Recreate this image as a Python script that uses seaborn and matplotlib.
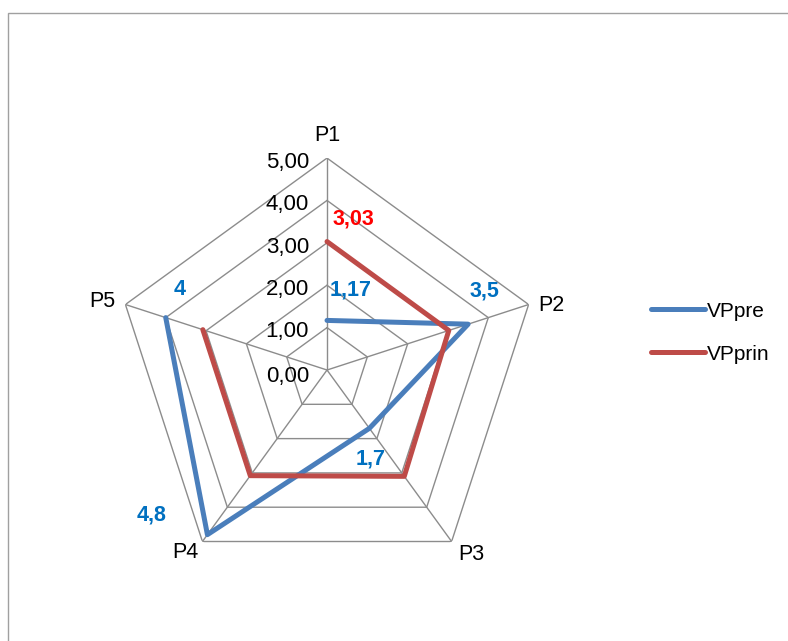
import numpy as np
import pandas as pd
import matplotlib
matplotlib.use("Agg")
import matplotlib.pyplot as plt
import seaborn as sns
from matplotlib.patches import Rectangle

# ─── Data ─────────────────────────────────────────────────────────────────────
categories = ["P1", "P2", "P3", "P4", "P5"]
vp_pre = [1.17, 3.5, 1.7, 4.8, 4.0]
vp_prin = [3.03, 3.02, 3.1, 3.08, 3.08]
pre_labels = ["1,17", "3,5", "1,7", "4,8", "4"]
prin_labels = ["3,03", "", "", "", ""]
tick_values = [0, 1, 2, 3, 4, 5]
tick_labels = ["0,00", "1,00", "2,00", "3,00", "4,00", "5,00"]

BLUE = "#4A7EBB"
RED = "#BE4B48"
GRID = "#8C8C8C"

sns.set_theme(style="white")
plt.rcParams["font.family"] = ["Liberation Sans", "DejaVu Sans"]
plt.rcParams["text.color"] = "black"

n = len(categories)
theta = np.arange(n) * 2 * np.pi / n
theta_closed = np.append(theta, theta[0])

fig = plt.figure(figsize=(7.88, 6.41), dpi=100)
ax = fig.add_axes([0.146, 0.092, 0.538, 0.6615], projection="polar")
ax.set_theta_offset(np.pi / 2)
ax.set_theta_direction(-1)
ax.set_ylim(0, 5)
ax.grid(False)
ax.spines["polar"].set_visible(False)
ax.set_xticks([])
ax.set_yticks([])
ax.patch.set_alpha(0)

# polygon grid + spokes
for r in tick_values[1:]:
    ax.plot(theta_closed, [r] * (n + 1), color=GRID, lw=1.0, zorder=1)
for t in theta:
    ax.plot([t, t], [0, 5], color=GRID, lw=1.0, zorder=1)

# series
df = pd.DataFrame({
    "theta": np.concatenate([theta_closed, theta_closed]),
    "value": vp_pre + [vp_pre[0]] + vp_prin + [vp_prin[0]],
    "series": ["VPpre"] * (n + 1) + ["VPprin"] * (n + 1),
})
sns.lineplot(data=df, x="theta", y="value", hue="series", sort=False,
             palette={"VPpre": BLUE, "VPprin": RED}, lw=3.6, ax=ax,
             legend=False, zorder=3)
ax.set_xlabel("")
ax.set_ylabel("")

# axis tick labels along P1
for v, lab in zip(tick_values, tick_labels):
    ax.annotate(lab, (0, v), xytext=(-13, -3 if v else -5), textcoords="offset points",
                ha="right", va="center", fontsize=16, color="black", zorder=4)

# category labels
cat_offsets = [(0, 9, "center", "bottom"), (7, -1, "left", "center"),
               (5, -2, "left", "top"), (-3, 0, "right", "top"),
               (-7, 2, "right", "center")]
for t, lab, (dx, dy, ha, va) in zip(theta, categories, cat_offsets):
    ax.annotate(lab, (t, 5), xytext=(dx, dy), textcoords="offset points",
                ha=ha, va=va, fontsize=15.5, color="black")

# data labels
pre_offsets = [(17, 22), (12, 24), (1, -22), (-40, 14), (10, 20)]
for t, v, lab, off in zip(theta, vp_pre, pre_labels, pre_offsets):
    if lab:
        ax.annotate(lab, (t, v), xytext=off, textcoords="offset points",
                    ha="center", va="center", fontsize=15.5, fontweight="bold",
                    color="#0070C0", zorder=5)
prin_offsets = [(19, 16), (0, 0), (0, 0), (0, 0), (0, 0)]
for t, v, lab, off in zip(theta, vp_prin, prin_labels, prin_offsets):
    if lab:
        ax.annotate(lab, (t, v), xytext=off, textcoords="offset points",
                    ha="center", va="center", fontsize=15.5, fontweight="bold",
                    color="#FF0000", zorder=5)

# legend
handles = [plt.Line2D([], [], color=BLUE, lw=3.6, solid_capstyle="round"),
           plt.Line2D([], [], color=RED, lw=3.6, solid_capstyle="round")]
fig.legend(handles, ["VPpre", "VPprin"], loc="center left",
           bbox_to_anchor=(0.826, 0.481), frameon=False, fontsize=15,
           handlelength=2.6, handletextpad=0.1, labelspacing=1.15,
           borderpad=0, borderaxespad=0, labelcolor="black")

# chart area border
fig.patches.append(Rectangle((8 / 788, -0.1), 1.2, 1 - 13 / 641 + 0.1,
                             transform=fig.transFigure, fill=False,
                             edgecolor="#A0A0A0", lw=1.0))

fig.savefig("out.png", dpi=100)
